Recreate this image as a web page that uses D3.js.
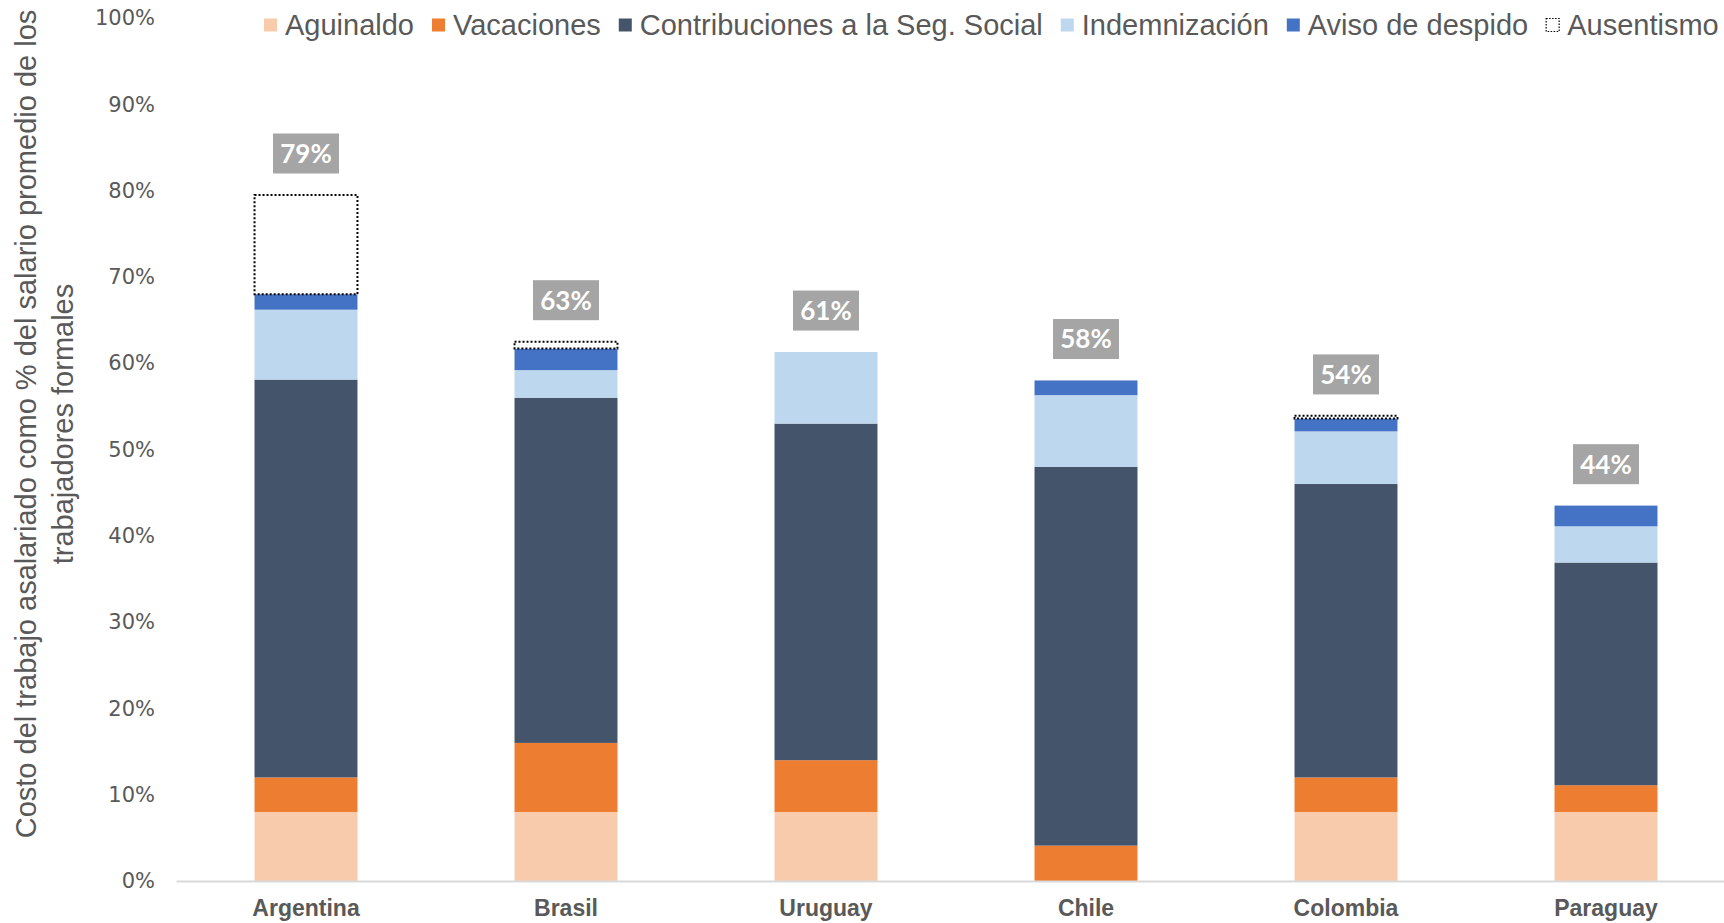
<!DOCTYPE html>
<html>
<head>
<meta charset="utf-8">
<script src="https://cdn.jsdelivr.net/npm/d3@7"></script>
<style>
  body { margin: 0; background: #fff; }
  svg { display: block; }
</style>
</head>
<body>
<svg id="chart" width="1724" height="923"></svg>
<script>
// values, as share of average formal wage
let countries = ["Argentina", "Brasil", "Uruguay", "Chile", "Colombia", "Paraguay"];
let seriesNames = ["Aguinaldo", "Vacaciones", "Contribuciones a la Seg. Social", "Indemnización", "Aviso de despido", "Ausentismo"];
let aguinaldo      = [0.08, 0.08, 0.08, 0.00, 0.08, 0.08];
let vacaciones     = [0.04, 0.08, 0.06, 0.041, 0.04, 0.031];
let contribuciones = [0.461, 0.40, 0.39, 0.439, 0.34, 0.258];
let indemnizacion  = [0.081, 0.032, 0.083, 0.083, 0.061, 0.042];
let aviso          = [0.018, 0.025, 0.00, 0.017, 0.015, 0.024];
let ausentismo     = [0.115, 0.008, 0.00, 0.00, 0.003, 0.00];
let totalLabels    = ["79%", "63%", "61%", "58%", "54%", "44%"];
let yTicks = [0, 0.1, 0.2, 0.3, 0.4, 0.5, 0.6, 0.7, 0.8, 0.9, 1.0];

let colors = ["#F8CBAD", "#ED7D31", "#44546A", "#BDD7EE", "#4472C4", "#FFFFFF"];

let svg = d3.select("#chart");
let margin = {top: 18, left: 176, bottom: 881};

let data = countries.map(function (c, i) {
    return {
        country: c,
        "Aguinaldo": aguinaldo[i],
        "Vacaciones": vacaciones[i],
        "Contribuciones a la Seg. Social": contribuciones[i],
        "Indemnización": indemnizacion[i],
        "Aviso de despido": aviso[i],
        "Ausentismo": ausentismo[i],
        label: totalLabels[i]
    };
});

let x = d3.scaleBand()
    .domain(countries)
    .range([margin.left, margin.left + 6 * 260])
    .paddingInner(0.604)
    .paddingOuter(0.302);

let y = d3.scaleLinear()
    .domain([0, 1])
    .range([margin.bottom, margin.top]);

let color = d3.scaleOrdinal().domain(seriesNames).range(colors);

let stacked = d3.stack().keys(seriesNames)(data);

// y axis
let yAxis = svg.append("g")
    .attr("transform", "translate(" + margin.left + ",0)")
    .call(d3.axisLeft(y).tickValues(yTicks).tickFormat(d3.format(".0%")).tickSize(0).tickPadding(21));
yAxis.select(".domain").remove();
yAxis.selectAll("text")
    .style("font-family", "'DejaVu Sans', sans-serif")
    .style("font-size", "21px")
    .style("fill", "#595959");

// stacked bars
let layers = svg.append("g").selectAll("g")
    .data(stacked)
    .enter().append("g")
    .attr("fill", d => color(d.key));

layers.selectAll("rect")
    .data(d => d.map(v => Object.assign(v, {key: d.key})))
    .enter().filter(d => d[1] - d[0] > 0)
    .append("rect")
    .attr("x", d => x(d.data.country))
    .attr("width", x.bandwidth())
    .attr("y", d => y(d[1]))
    .attr("height", d => y(d[0]) - y(d[1]))
    .attr("stroke", d => d.key === "Ausentismo" ? "#000" : "none")
    .attr("stroke-width", d => d.key === "Ausentismo" ? 2 : 0)
    .attr("stroke-dasharray", d => d.key === "Ausentismo" ? "2,2" : null);

// x axis
let xAxis = svg.append("g")
    .attr("transform", "translate(0," + margin.bottom + ")")
    .call(d3.axisBottom(x).tickSize(0).tickPadding(19));
xAxis.select(".domain")
    .attr("stroke", "#D9D9D9")
    .attr("stroke-width", 2);
xAxis.selectAll("text")
    .style("font-family", "'Liberation Sans', Arial, sans-serif")
    .style("font-size", "23px")
    .style("font-weight", "bold")
    .style("fill", "#595959");

// total labels
let totals = data.map(d => seriesNames.reduce((s, k) => s + d[k], 0));
let labels = svg.append("g").selectAll("g")
    .data(data)
    .enter().append("g")
    .attr("transform", (d, i) => "translate(" + (x(d.country) + x.bandwidth() / 2) + "," + y(totals[i] + 0.048) + ")");

labels.append("rect")
    .attr("x", -33)
    .attr("y", -20)
    .attr("width", 66)
    .attr("height", 40)
    .attr("fill", "#A5A5A5");

labels.append("text")
    .attr("text-anchor", "middle")
    .attr("dy", "0.36em")
    .style("font-family", "Lato, sans-serif")
    .style("font-weight", "bold")
    .style("font-size", "26px")
    .style("fill", "#fff")
    .text(d => d.label);

// y axis title
let title = svg.append("text")
    .attr("transform", "translate(26,424) rotate(-90)")
    .attr("text-anchor", "middle")
    .style("font-family", "'Liberation Sans', Arial, sans-serif")
    .style("font-size", "29px")
    .style("fill", "#595959");
title.append("tspan").attr("x", 0).attr("dy", "0.35em")
    .text("Costo del trabajo asalariado como % del salario promedio de los");
title.append("tspan").attr("x", 0).attr("dy", 37)
    .text("trabajadores formales");

// legend
let legend = svg.append("g").attr("transform", "translate(264,25)");
let lx = 0;
seriesNames.forEach(function (name) {
    let item = legend.append("g").attr("transform", "translate(" + lx + ",0)");
    item.append("rect")
        .attr("x", 0)
        .attr("y", -6.5)
        .attr("width", 13)
        .attr("height", 13)
        .attr("fill", color(name))
        .attr("stroke", name === "Ausentismo" ? "#000" : "none")
        .attr("stroke-width", 1.2)
        .attr("stroke-dasharray", name === "Ausentismo" ? "1.5,1.5" : null);
    let t = item.append("text")
        .attr("x", 21)
        .attr("dy", "0.35em")
        .style("font-family", "'Liberation Sans', Arial, sans-serif")
        .style("font-size", "29px")
        .style("fill", "#595959")
        .text(name);
    lx += 21 + t.node().getComputedTextLength() + 18;
});
</script>
</body>
</html>
